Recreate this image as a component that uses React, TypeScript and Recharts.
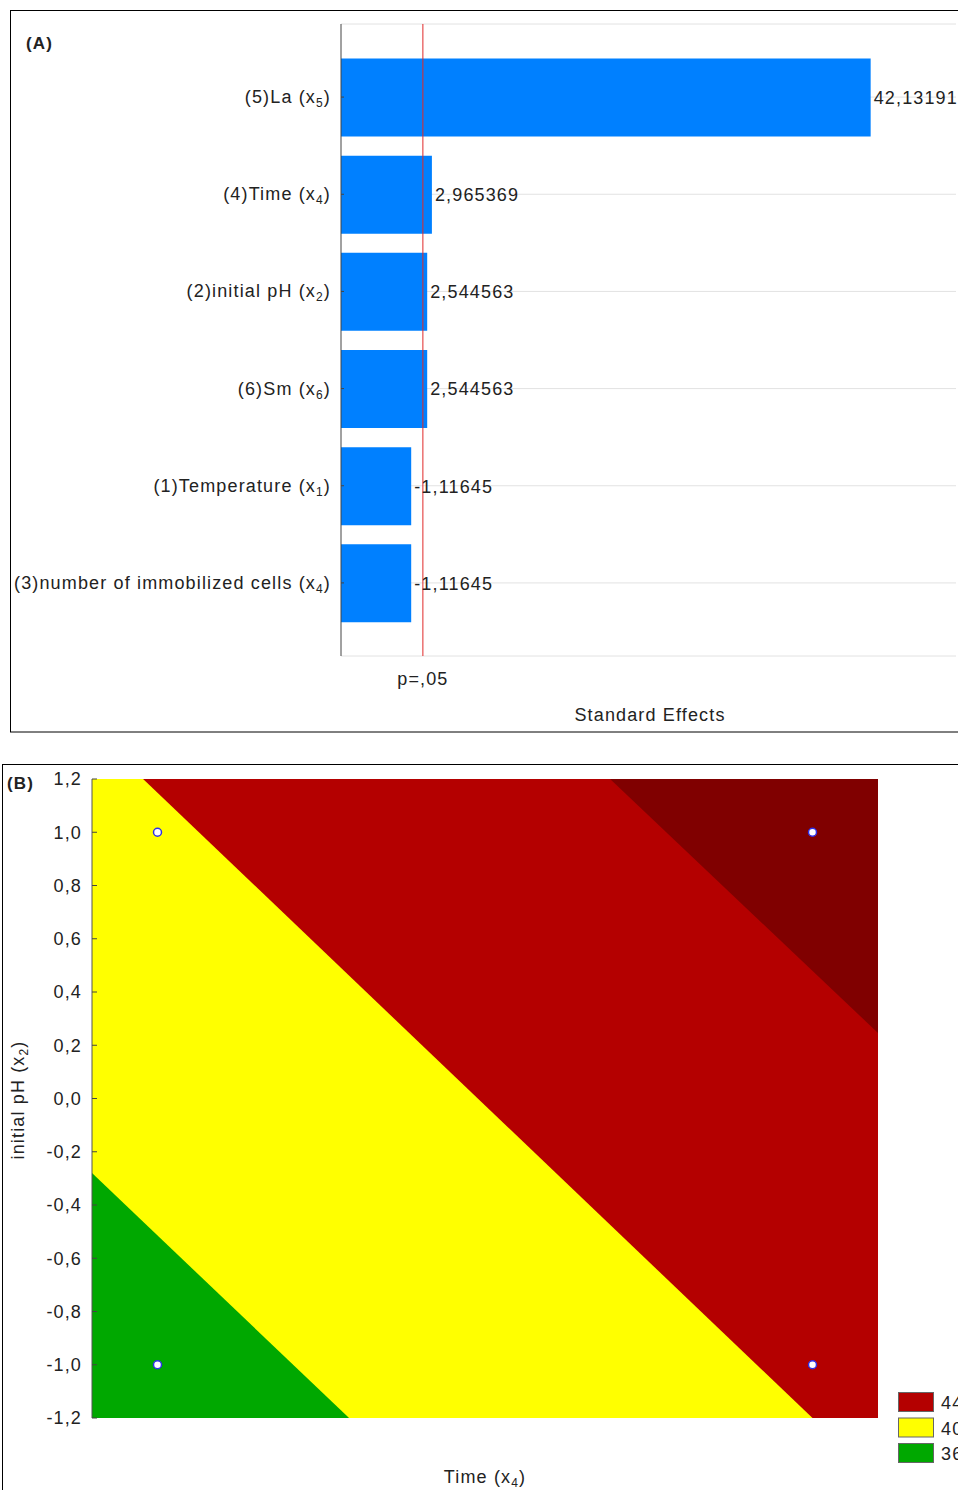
import React from 'react';
import {
  BarChart,
  Bar,
  XAxis,
  YAxis,
  CartesianGrid,
  ReferenceLine,
  LabelList,
  ComposedChart,
  Area,
  Scatter,
} from 'recharts';

// (A) Pareto chart of standardized effects
const FACTORS = ['(5)La', '(4)Time', '(2)initial pH', '(6)Sm', '(1)Temperature', '(3)number of immobilized cells'];
const FACTOR_SUBS = ['5', '4', '2', '6', '1', '4'];
const EFFECTS = [42.13191, 2.965369, 2.544563, 2.544563, -1.11645, -1.11645];
const P_LIMIT = 2.16;
const EFFECT_DOMAIN = [-5.15, 49.75];
const MAJOR_TICKS = [-5, 0, 5, 10, 15, 20, 25, 30, 35, 40, 45];
const MINOR_TICKS = Array.from({ length: 55 }, (_, i) => i - 5);

// (B) contour plot, boundaries read where they meet the plot frame
const B_TICKS = [-1.2, -1.0, -0.8, -0.6, -0.4, -0.2, 0, 0.2, 0.4, 0.6, 0.8, 1.0, 1.2];
const CONTOUR_X = [-1.2, -1.044, -0.415, 0.382, 1.0, 1.2];
const LEVEL_44 = [1.2, null, null, 1.2, null, 0.246];
const LEVEL_40 = [1.2, 1.2, null, null, -1.2, null];
const LEVEL_36 = [-0.28, null, -1.2, null, null, null];
const DESIGN_X = [-1, 1, -1, 1];
const DESIGN_Y = [1, 1, -1, -1];
const LEGEND_LEVELS = ['44', '40', '36'];
const LEGEND_COLORS = ['#b40000', '#ffff00', '#00a800'];

const barData = FACTORS.map((name, i) => ({ name, effect: EFFECTS[i] }));
const contourData = CONTOUR_X.map((x, i) => ({ x, c44: LEVEL_44[i], c40: LEVEL_40[i], c36: LEVEL_36[i] }));
const designData = DESIGN_X.map((x, i) => ({ x, y: DESIGN_Y[i] }));

const TEXT = '#222';
const comma = (v: number) => String(v).replace('.', ',');
const NoLabel = () => <g />;

const FactorTick = (props: any) => {
  const { x, y, payload } = props;
  const i = FACTORS.indexOf(payload.value);
  return (
    <text x={x} y={y} dy={6} textAnchor="end" fill={TEXT} fontSize={18}>
      {`${FACTORS[i]} (x`}
      <tspan dy={4} fontSize={12}>{FACTOR_SUBS[i]}</tspan>
      <tspan dy={-4}>)</tspan>
    </text>
  );
};

const DesignPoint = (props: any) => (
  <circle cx={props.cx} cy={props.cy} r={4} fill="#fff" stroke="#2f2fe6" strokeWidth={1.5} />
);

const ParetoPanel = () => (
  <div style={{ position: 'absolute', left: 0, top: 0, width: 958, height: 740 }}>
    <BarChart
      width={958}
      height={740}
      data={barData}
      layout="vertical"
      margin={{ top: 24, right: 2, bottom: 84, left: 0 }}
    >
      <CartesianGrid xAxisId="b" horizontal vertical={false} stroke="#e2e2e2" />
      <XAxis xAxisId="b" type="number" domain={EFFECT_DOMAIN} ticks={MINOR_TICKS} interval={0} allowDataOverflow
        height={0} tick={NoLabel} tickSize={-2} tickLine={{ stroke: '#444' }} axisLine={{ stroke: '#444' }} />
      <XAxis xAxisId="bM" type="number" domain={EFFECT_DOMAIN} ticks={MAJOR_TICKS} interval={0} allowDataOverflow
        height={0} tick={NoLabel} tickSize={-4} tickLine={{ stroke: '#444' }} axisLine={false} />
      <XAxis xAxisId="t" orientation="top" type="number" domain={EFFECT_DOMAIN} ticks={MINOR_TICKS} interval={0}
        allowDataOverflow height={0} tick={NoLabel} tickSize={-2} tickLine={{ stroke: '#444' }} axisLine={{ stroke: '#444' }} />
      <XAxis xAxisId="tM" orientation="top" type="number" domain={EFFECT_DOMAIN} ticks={MAJOR_TICKS} interval={0}
        allowDataOverflow height={0} tick={NoLabel} tickSize={-4} tickLine={{ stroke: '#444' }} axisLine={false} />
      <YAxis type="category" dataKey="name" width={341} interval={0} padding={{ top: 24.5, bottom: 24.5 }}
        tick={FactorTick} tickSize={-3} tickMargin={13} tickLine={{ stroke: '#444' }} axisLine={{ stroke: '#444' }} />
      <YAxis yAxisId="r" orientation="right" type="category" dataKey="name" width={0} interval={0}
        padding={{ top: 24.5, bottom: 24.5 }} tick={NoLabel} tickSize={-3} tickLine={{ stroke: '#888' }}
        axisLine={{ stroke: '#aaa' }} />
      <Bar
        xAxisId="b"
        dataKey={(d: any) => [EFFECT_DOMAIN[0], Math.abs(d.effect)]}
        barSize={78}
        fill="#0080ff"
        isAnimationActive={false}
      >
        <LabelList dataKey="effect" position="right" offset={3} formatter={(v: any) => comma(v)}
          fill={TEXT} fontSize={18} />
      </Bar>
      <ReferenceLine xAxisId="b" x={P_LIMIT} stroke="#e02828" strokeWidth={1}
        label={{ value: 'p=,05', position: 'bottom', offset: 16, fill: TEXT, fontSize: 18 }} />
    </BarChart>
    <svg width={958} height={740} style={{ position: 'absolute', left: 0, top: 0, pointerEvents: 'none' }}>
      <rect x={10.5} y={10.5} width={960} height={721.5} fill="none" stroke="#000" />
      <text x={26} y={49} fontSize={17} fontWeight="bold" fill={TEXT}>(A)</text>
      <text x={650} y={721} fontSize={18} textAnchor="middle" fill={TEXT}>Standard Effects</text>
    </svg>
  </div>
);

const ContourPanel = () => (
  <div style={{ position: 'absolute', left: 0, top: 764, width: 958, height: 726 }}>
    <ComposedChart width={958} height={726} data={contourData} margin={{ top: 15, right: 80, bottom: 72, left: 0 }}>
      <CartesianGrid xAxisId="x" yAxisId="y" horizontal={false} vertical={false} fill="#800000" fillOpacity={1} />
      <XAxis xAxisId="x" dataKey="x" type="number" domain={[-1.2, 1.2]} ticks={B_TICKS} interval={0} allowDataOverflow
        height={0} tickFormatter={(v: number) => v.toFixed(1).replace('.', ',')} tickSize={-5} tickMargin={20}
        tick={{ fill: TEXT, fontSize: 18 }} tickLine={{ stroke: '#444' }} axisLine={{ stroke: '#555' }} />
      <XAxis xAxisId="top" orientation="top" type="number" domain={[-1.2, 1.2]} ticks={B_TICKS} interval={0}
        allowDataOverflow height={0} tick={NoLabel} tickSize={-5} tickLine={{ stroke: '#444' }} axisLine={{ stroke: '#555' }} />
      <YAxis yAxisId="y" type="number" domain={[-1.2, 1.2]} ticks={B_TICKS} interval={0} allowDataOverflow width={92}
        tickFormatter={(v: number) => v.toFixed(1).replace('.', ',')} tickSize={-5} tickMargin={15}
        tick={{ fill: TEXT, fontSize: 18 }} tickLine={{ stroke: '#444' }} axisLine={{ stroke: '#555' }} />
      <YAxis yAxisId="right" orientation="right" type="number" domain={[-1.2, 1.2]} ticks={B_TICKS} interval={0}
        allowDataOverflow width={0} tick={NoLabel} tickSize={-5} tickLine={{ stroke: '#444' }} axisLine={{ stroke: '#555' }} />
      <Area xAxisId="x" yAxisId="y" dataKey="c44" type="linear" baseValue={-1.2} fill="#b40000" fillOpacity={1}
        stroke="none" connectNulls dot={false} activeDot={false} isAnimationActive={false} />
      <Area xAxisId="x" yAxisId="y" dataKey="c40" type="linear" baseValue={-1.2} fill="#ffff00" fillOpacity={1}
        stroke="none" connectNulls dot={false} activeDot={false} isAnimationActive={false} />
      <Area xAxisId="x" yAxisId="y" dataKey="c36" type="linear" baseValue={-1.2} fill="#00a800" fillOpacity={1}
        stroke="none" connectNulls dot={false} activeDot={false} isAnimationActive={false} />
      <Scatter xAxisId="x" yAxisId="y" data={designData} dataKey="y" shape={DesignPoint} isAnimationActive={false} />
    </ComposedChart>
    <svg width={958} height={726} style={{ position: 'absolute', left: 0, top: 0, pointerEvents: 'none' }}>
      <rect x={2.5} y={0.5} width={960} height={740} fill="none" stroke="#000" />
      <text x={7} y={25} fontSize={17} fontWeight="bold" fill={TEXT}>(B)</text>
      <text transform="translate(24,336) rotate(-90)" textAnchor="middle" fontSize={18} fill={TEXT}>
        {'initial pH (x'}
        <tspan dy={4} fontSize={12}>2</tspan>
        <tspan dy={-4}>)</tspan>
      </text>
      <text x={485} y={719} textAnchor="middle" fontSize={18} fill={TEXT}>
        {'Time (x'}
        <tspan dy={4} fontSize={12}>4</tspan>
        <tspan dy={-4}>)</tspan>
      </text>
      {LEGEND_LEVELS.map((lvl, i) => (
        <g key={lvl}>
          <rect x={898.5} y={628.5 + i * 25.5} width={35} height={19} fill={LEGEND_COLORS[i]} stroke="#666" />
          <text x={941} y={645 + i * 25.5} fontSize={18} fill={TEXT}>{lvl}</text>
        </g>
      ))}
    </svg>
  </div>
);

export default function App() {
  return (
    <div
      style={{
        position: 'fixed',
        left: 0,
        top: 0,
        width: 958,
        height: 1490,
        overflow: 'hidden',
        background: '#fff',
        fontFamily: '"Liberation Sans", Arial, sans-serif',
        letterSpacing: '1.15px',
      }}
    >
      <ParetoPanel />
      <ContourPanel />
    </div>
  );
}
